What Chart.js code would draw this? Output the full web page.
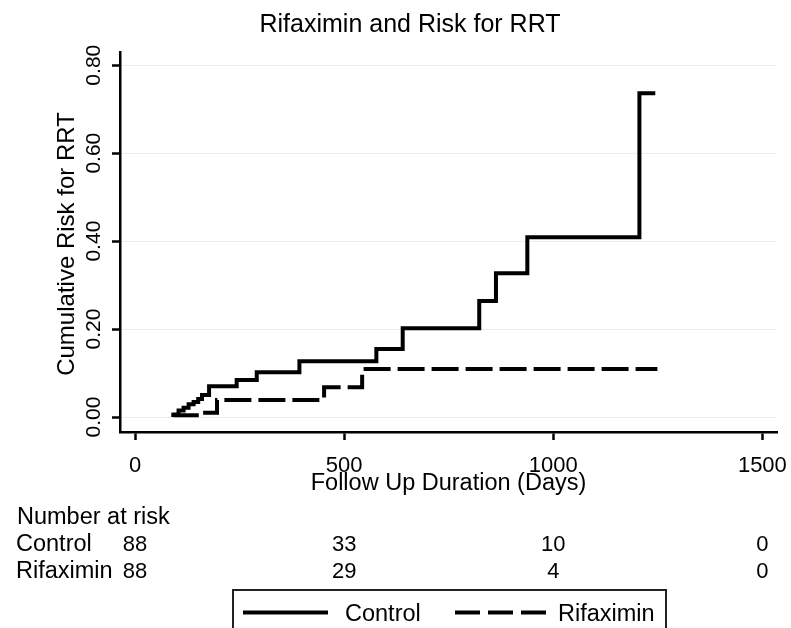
<!DOCTYPE html>
<html>
<head>
<meta charset="utf-8">
<script src="https://cdn.jsdelivr.net/npm/chart.js@4"></script>
<style>
  html, body { margin: 0; padding: 0; background: #fff; }
  #wrap { width: 791px; height: 628px; }
</style>
</head>
<body>
<div id="wrap"><canvas id="myChart" width="791" height="628"></canvas></div>
<script>
// step curves, days / cumulative risk
var controlDays = [92, 92, 104, 116, 128, 140, 151, 160, 177, 243, 291, 393, 577, 640, 823, 863, 938, 1206, 1244];
var controlRisk = [0, 0.006, 0.015, 0.021, 0.029, 0.034, 0.041, 0.05, 0.07, 0.084, 0.102, 0.127, 0.155, 0.202, 0.264, 0.327, 0.409, 0.736, 0.736];

var rifaxDays = [92, 92, 160, 196, 452, 543, 1249];
var rifaxRisk = [0, 0.004, 0.01, 0.039, 0.068, 0.109, 0.109];

var xTicks = [0, 500, 1000, 1500];
var yTicks = [0, 0.2, 0.4, 0.6, 0.8];

// number at risk table
var riskTimes = [0, 500, 1000, 1500];
var controlAtRisk = [88, 33, 10, 0];
var rifaxAtRisk = [88, 29, 4, 0];

var FONT = "'Liberation Sans', Arial, sans-serif";

function pts(xs, ys) {
  return xs.map(function (d, i) { return { x: d, y: ys[i] }; });
}

function txt(ctx, s, x, y, size, align) {
  ctx.font = size + "px " + FONT;
  ctx.textAlign = align || "left";
  ctx.textBaseline = "alphabetic";
  ctx.fillText(s, x, y);
}

var extras = {
  id: "extras",
  afterDraw: function (chart) {
    var ctx = chart.ctx;
    var xs = chart.scales.x;
    var ys = chart.scales.y;
    ctx.save();
    ctx.fillStyle = "#000";

    // title
    txt(ctx, "Rifaximin and Risk for RRT", 410, 32, 25, "center");

    // y tick labels (rotated)
    yTicks.forEach(function (v) {
      ctx.save();
      ctx.translate(100, ys.getPixelForValue(v));
      ctx.rotate(-Math.PI / 2);
      txt(ctx, v.toFixed(2), 0, 0, 21, "center");
      ctx.restore();
    });
    // y title
    ctx.save();
    ctx.translate(74, 244);
    ctx.rotate(-Math.PI / 2);
    txt(ctx, "Cumulative Risk for RRT", 0, 0, 24, "center");
    ctx.restore();

    // x tick labels + title
    xTicks.forEach(function (v) {
      txt(ctx, String(v), xs.getPixelForValue(v), 472, 22, "center");
    });
    txt(ctx, "Follow Up Duration (Days)", (chart.chartArea.left + chart.chartArea.right) / 2, 490, 23.5, "center");

    // number at risk
    txt(ctx, "Number at risk", 17, 524, 23.5);
    txt(ctx, "Control", 16, 551, 23.5);
    txt(ctx, "Rifaximin", 16, 578, 23.5);
    riskTimes.forEach(function (t, i) {
      var px = xs.getPixelForValue(t);
      txt(ctx, String(controlAtRisk[i]), px, 551, 22, "center");
      txt(ctx, String(rifaxAtRisk[i]), px, 578, 22, "center");
    });

    // legend
    ctx.strokeStyle = "#222";
    ctx.lineWidth = 2;
    ctx.strokeRect(233, 590, 433, 60);
    ctx.strokeStyle = "#000";
    ctx.lineWidth = 4;
    ctx.beginPath();
    ctx.moveTo(243, 612.5);
    ctx.lineTo(328, 612.5);
    ctx.stroke();
    ctx.setLineDash([25, 8]);
    ctx.beginPath();
    ctx.moveTo(455, 612.5);
    ctx.lineTo(547, 612.5);
    ctx.stroke();
    ctx.setLineDash([]);
    txt(ctx, "Control", 345, 621, 23.5);
    txt(ctx, "Rifaximin", 558, 621, 23.5);

    ctx.restore();
  }
};

var ctx = document.getElementById("myChart");
var myChart = new Chart(ctx, {
  type: "line",
  data: {
    datasets: [
      {
        label: "Control",
        data: pts(controlDays, controlRisk),
        borderColor: "#000",
        borderWidth: 4,
        stepped: "before",
        pointRadius: 0,
        fill: false
      },
      {
        label: "Rifaximin",
        data: pts(rifaxDays, rifaxRisk),
        borderColor: "#000",
        borderWidth: 4,
        borderDash: [27, 7],
        stepped: "before",
        pointRadius: 0,
        fill: false
      }
    ]
  },
  options: {
    responsive: false,
    animation: false,
    layout: { padding: { top: 52, right: 14, left: 0, bottom: 0 } },
    plugins: {
      legend: { display: false },
      tooltip: { enabled: false },
      title: { display: false }
    },
    scales: {
      x: {
        type: "linear",
        min: -36,
        max: 1535,
        afterBuildTicks: function (s) { s.ticks = xTicks.map(function (v) { return { value: v }; }); },
        afterFit: function (s) { s.height = 196; },
        ticks: { display: false },
        grid: { drawOnChartArea: false, drawTicks: true, tickLength: 8, tickColor: "#000", tickWidth: 2.5 },
        border: { display: true, color: "#000", width: 2.5 }
      },
      y: {
        type: "linear",
        min: -0.034,
        max: 0.83,
        afterBuildTicks: function (s) { s.ticks = yTicks.map(function (v) { return { value: v }; }); },
        afterFit: function (s) { s.width = 120; },
        ticks: { display: false },
        grid: { color: "#ececec", lineWidth: 1, tickLength: 8, tickColor: "#000", tickWidth: 2.5 },
        border: { display: true, color: "#000", width: 2.5 }
      }
    }
  },
  plugins: [extras]
});
</script>
</body>
</html>
